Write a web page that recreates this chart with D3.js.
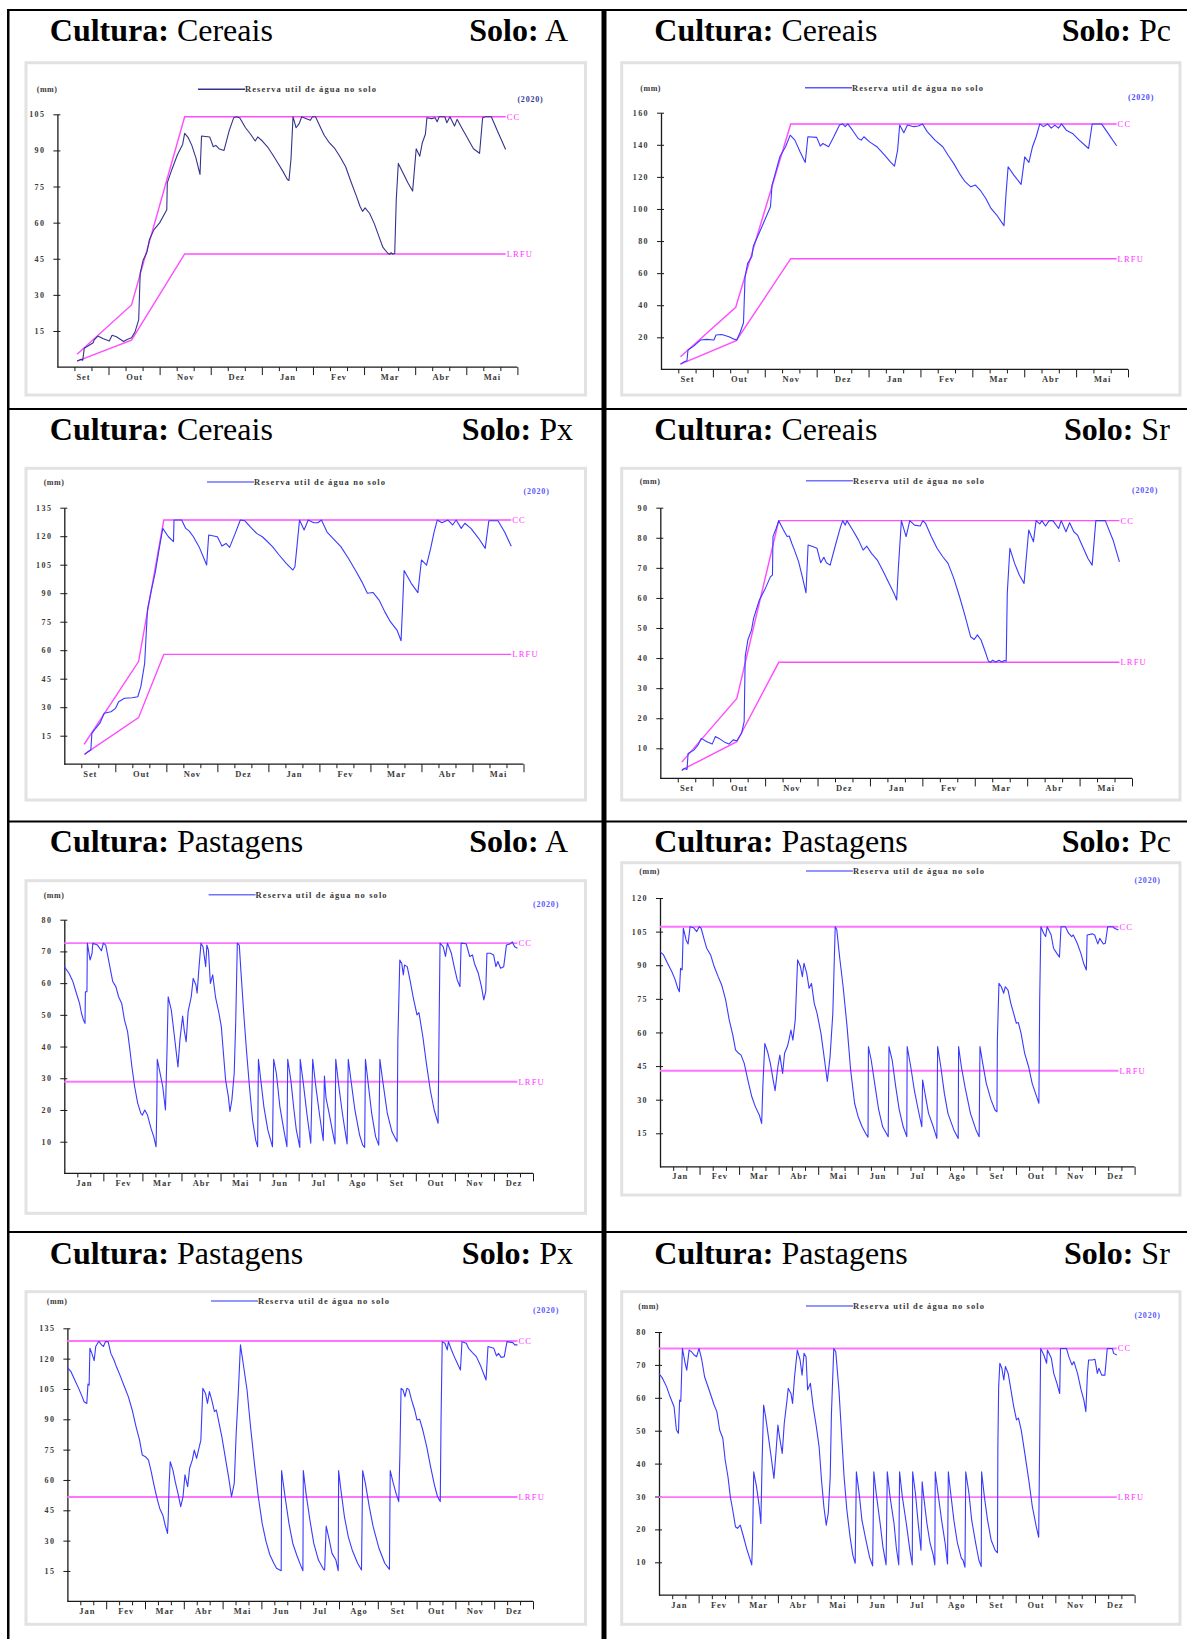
<!DOCTYPE html>
<html><head><meta charset="utf-8">
<script src="https://cdn.jsdelivr.net/npm/d3@7"></script>
<style>
  body { margin: 0; background: #fff; }
  svg { display: block; }
</style></head>
<body>
<svg id="chart" width="1187" height="1639"></svg>
<script>
// ---- Month labels ----
const cerealMonths  = ['Set','Out','Nov','Dez','Jan','Fev','Mar','Abr','Mai'];
const pastureMonths = ['Jan','Fev','Mar','Abr','Mai','Jun','Jul','Ago','Set','Out','Nov','Dez'];

// ---- Y tick labels (mm) ----
const ticksCerealA    = [15,30,45,60,75,90,105];
const ticksCerealPc   = [20,40,60,80,100,120,140,160];
const ticksCerealPx   = [15,30,45,60,75,90,105,120,135];
const ticksCerealSr   = [10,20,30,40,50,60,70,80,90];
const ticksPastureA   = [10,20,30,40,50,60,70,80];
const ticksPasturePc  = [15,30,45,60,75,90,105,120];
const ticksPasturePx  = [15,30,45,60,75,90,105,120,135];
const ticksPastureSr  = [10,20,30,40,50,60,70,80];

// ---- Capacidade de campo (CC) and LRFU, [month position, mm] ----
const ccCerealA   = [[0.385,5.3],[1.45,25.8],[2.49,104],[8.77,104]];
const lrfuCerealA = [[0.385,2.5],[1.45,11.2],[2.49,47],[8.77,47]];
const ccCerealPc   = [[0.375,7.9],[1.44,38.7],[2.5,153],[8.78,153]];
const lrfuCerealPc = [[0.375,3.3],[1.45,17.9],[2.5,69],[8.78,69]];
const ccCerealPx   = [[0.39,10.5],[1.455,54],[1.95,128.5],[8.76,128.5]];
const lrfuCerealPx = [[0.39,5.2],[1.455,24.5],[1.95,57.8],[8.76,57.8]];
const ccCerealSr   = [[0.41,5.4],[1.46,26.6],[2.26,85.7],[8.76,85.7]];
const lrfuCerealSr = [[0.41,2.8],[1.46,12.2],[2.26,38.6],[8.76,38.6]];
const ccPastureA   = [[0,72.6],[11.6,72.6]];
const lrfuPastureA = [[0,28.9],[11.6,28.9]];
const ccPasturePc   = [[0,107.2],[11.59,107.2]];
const lrfuPasturePc = [[0,42.9],[11.59,42.9]];
const ccPasturePx   = [[0,128.7],[11.6,128.7]];
const lrfuPasturePx = [[0,51.6],[11.6,51.6]];
const ccPastureSr   = [[0,75],[11.55,75]];
const lrfuPastureSr = [[0,29.8],[11.55,29.8]];

// ---- Reserva útil de água no solo, [month position, mm] ----
const cerealA = [[0.385,2.5],[0.455,3.2],[0.497,2.9],[0.525,7.8],[0.63,9.2],[0.70,10.1],[0.72,11.3],[0.79,12.9],[0.89,11.9],[1.015,10.8],[1.07,13.2],[1.155,12.6],[1.295,10.6],[1.365,11.5],[1.45,12.2],[1.52,14.7],[1.59,19.6],[1.62,39],[1.68,44.6],[1.75,47.6],[1.80,52.9],[1.89,57.1],[2.0,59.9],[2.10,63.8],[2.14,65.4],[2.15,76.5],[2.24,82.1],[2.35,88.3],[2.45,92.5],[2.49,97.1],[2.56,95.3],[2.63,92.1],[2.71,86.9],[2.79,80],[2.82,96],[2.98,95.6],[3.05,91.5],[3.10,92.1],[3.16,90.7],[3.26,90],[3.36,98.1],[3.45,103.6],[3.50,104],[3.57,103.5],[3.68,99.4],[3.78,96.7],[3.87,93.9],[3.92,95.6],[4.01,93.9],[4.11,91.5],[4.21,88.3],[4.31,84.9],[4.41,81.4],[4.50,77.9],[4.53,77.5],[4.57,86.3],[4.61,104],[4.67,99.4],[4.73,101.1],[4.78,104],[4.87,103.2],[4.95,102.5],[4.99,104],[5.05,104],[5.15,99.4],[5.22,96.3],[5.32,93.2],[5.43,90.7],[5.53,87.4],[5.64,83.2],[5.74,77.2],[5.85,71],[5.92,66.8],[5.97,64.7],[6.02,66.1],[6.11,63.8],[6.20,59.6],[6.29,54.3],[6.37,49.7],[6.46,47.4],[6.50,46.8],[6.53,47.5],[6.56,46.9],[6.60,47.3],[6.63,69.6],[6.67,84.6],[6.76,80.7],[6.86,76.5],[6.95,73.1],[7.02,90.7],[7.09,87.6],[7.14,93.2],[7.20,96.7],[7.23,103.6],[7.32,103.2],[7.39,103.6],[7.43,101.9],[7.47,104],[7.58,104],[7.62,101.5],[7.68,104],[7.77,100.1],[7.82,102.9],[7.91,99.4],[8.02,95.3],[8.14,90.7],[8.26,88.8],[8.32,103.6],[8.37,104],[8.49,104],[8.61,98.1],[8.77,90.4]];

const cerealPc = [[0.375,3.3],[0.45,4.8],[0.50,5.4],[0.52,12.1],[0.63,14.5],[0.69,16.2],[0.76,18.3],[0.88,18.7],[1.02,18.3],[1.06,21.4],[1.17,21.8],[1.31,20.4],[1.42,18.7],[1.46,18.3],[1.53,23.5],[1.59,29.1],[1.62,57.8],[1.67,66.1],[1.75,70.2],[1.78,76.9],[1.89,84.8],[2.0,93.1],[2.11,101.4],[2.14,114.9],[2.22,124.2],[2.29,132.5],[2.40,138.8],[2.49,146],[2.58,142.9],[2.68,135.6],[2.78,129],[2.83,145],[3.0,144.6],[3.07,139.2],[3.12,140.8],[3.23,138.8],[3.33,145],[3.44,152.3],[3.50,153],[3.55,151.3],[3.60,153],[3.69,149.1],[3.80,143.9],[3.86,142.9],[3.91,145],[4.02,141.8],[4.16,138.8],[4.31,133.6],[4.42,129.4],[4.50,126.7],[4.56,136.7],[4.60,152.3],[4.68,147.5],[4.75,152.3],[4.87,151.3],[4.96,151.7],[5.04,153],[5.13,148.2],[5.28,142.9],[5.43,138.8],[5.53,133.6],[5.64,128.4],[5.75,122.2],[5.86,117],[5.97,113.8],[6.06,114.9],[6.15,111.8],[6.26,106.5],[6.36,100.3],[6.47,96.2],[6.58,91],[6.61,89.5],[6.65,109.7],[6.69,126.3],[6.80,121.1],[6.94,115.3],[7.01,132.5],[7.09,129],[7.16,138.8],[7.23,145],[7.30,153],[7.37,151.3],[7.45,153],[7.52,150.4],[7.59,152.3],[7.66,150.4],[7.72,153],[7.81,149.1],[7.93,147.1],[8.06,142.9],[8.24,137.7],[8.31,153],[8.49,153],[8.64,146],[8.78,139.4]];

const cerealPx = [[0.405,5.2],[0.465,6.6],[0.52,7.5],[0.54,16.2],[0.615,18.9],[0.705,21.9],[0.78,26.8],[0.915,27.6],[1.005,29.4],[1.065,32.9],[1.18,34.7],[1.33,35],[1.44,35.5],[1.50,40.8],[1.575,53.1],[1.63,81.2],[1.70,90.8],[1.78,100.5],[1.85,111.9],[1.93,124.1],[2.04,119.7],[2.14,117.1],[2.15,128.5],[2.30,128.5],[2.38,124.1],[2.45,122.7],[2.53,119.7],[2.64,114.5],[2.75,107.5],[2.79,104.8],[2.83,120.6],[3.0,119.7],[3.09,114.8],[3.17,116.2],[3.24,114.1],[3.35,121.5],[3.45,128.5],[3.54,128.1],[3.65,124.8],[3.77,121.5],[3.88,119.7],[3.95,118],[4.08,114.5],[4.21,110.1],[4.35,105.7],[4.48,102.2],[4.52,103.9],[4.55,111.9],[4.61,128.5],[4.70,123.3],[4.78,128.5],[4.89,127.1],[4.97,127.1],[5.04,128.5],[5.15,122.2],[5.27,118.7],[5.42,114.5],[5.57,108.3],[5.72,101.4],[5.83,96.1],[5.94,90],[6.05,90.4],[6.17,86.4],[6.28,80.3],[6.39,75],[6.52,70.6],[6.60,65],[6.63,82.9],[6.66,101.9],[6.80,95.2],[6.93,90.3],[7.0,107.5],[7.10,104.8],[7.18,113.6],[7.25,122.4],[7.31,128.5],[7.40,127.1],[7.52,128.5],[7.61,125.9],[7.68,128.5],[7.78,124.1],[7.85,126.8],[7.97,124.1],[8.12,118.9],[8.25,113.6],[8.32,128.1],[8.50,128.1],[8.63,122.2],[8.76,114.7]];

const cerealSr = [[0.41,2.6],[0.46,3.3],[0.51,3.0],[0.53,8.3],[0.64,9.4],[0.72,11.1],[0.78,13.3],[0.89,12.2],[0.99,11.4],[1.05,13.9],[1.12,13.3],[1.24,11.9],[1.31,11.4],[1.39,12.8],[1.46,12.5],[1.55,15],[1.60,18.9],[1.62,40.5],[1.67,46],[1.74,49.3],[1.78,53.2],[1.89,59.3],[1.99,62.6],[2.10,67],[2.14,67.6],[2.15,80.4],[2.21,83.1],[2.26,85.7],[2.35,82.6],[2.42,80.4],[2.46,80.6],[2.51,78.1],[2.56,75.9],[2.64,72],[2.71,67],[2.78,61.7],[2.82,77.6],[2.92,77],[2.99,76.5],[3.06,71.7],[3.12,73.5],[3.17,71.7],[3.24,70.9],[3.35,78.1],[3.44,83.7],[3.48,85.7],[3.53,84.2],[3.56,85.7],[3.67,82.6],[3.78,79.3],[3.87,75.9],[3.94,77.2],[4.03,74.8],[4.14,72.6],[4.24,69.3],[4.35,65.4],[4.46,61.5],[4.51,59.3],[4.54,69.3],[4.60,85.7],[4.69,80.4],[4.76,85.7],[4.85,84.2],[4.96,83.9],[5.01,85.7],[5.06,84.8],[5.17,80.4],[5.28,76.5],[5.39,73.7],[5.49,71.5],[5.60,66.5],[5.71,60.4],[5.82,53.7],[5.92,47.1],[5.99,46.2],[6.05,47.7],[6.12,46],[6.21,41.6],[6.26,39],[6.30,38.6],[6.34,39.3],[6.40,38.7],[6.46,39.3],[6.52,38.7],[6.56,39.2],[6.60,39],[6.62,61.5],[6.67,76.5],[6.76,71.5],[6.85,67.6],[6.94,64.8],[7.03,82.6],[7.12,78.7],[7.17,85.7],[7.24,84.6],[7.28,85.7],[7.35,83.9],[7.42,85.7],[7.49,85.7],[7.60,83.1],[7.65,85.7],[7.74,82],[7.81,85],[7.89,82],[7.96,80.9],[8.06,77],[8.16,73.1],[8.24,70.9],[8.31,85.7],[8.49,85.7],[8.64,79.2],[8.76,72]];

const pastureA = [[0,65.2],[0.12,63.1],[0.22,60.5],[0.31,56.8],[0.39,53.6],[0.44,50.5],[0.49,48.4],[0.53,47.3],[0.54,57.3],[0.58,57.3],[0.59,72.6],[0.66,67.3],[0.71,69.4],[0.73,72.6],[0.85,72],[0.95,70.2],[1.0,72.6],[1.06,72],[1.15,66.2],[1.24,60.5],[1.32,58.9],[1.39,55.7],[1.47,53.6],[1.54,48.4],[1.62,44.7],[1.68,38.9],[1.73,33.7],[1.80,27.4],[1.88,22.1],[1.96,18.9],[2.0,18.4],[2.06,20],[2.13,18.4],[2.22,14.2],[2.29,11.6],[2.35,8.4],[2.37,22.1],[2.38,36],[2.47,30.5],[2.52,27.4],[2.59,20],[2.63,38.9],[2.66,55.7],[2.74,51.5],[2.81,44.2],[2.91,33.6],[2.96,42.1],[3.03,49.6],[3.07,45.2],[3.12,41.5],[3.17,51],[3.25,55.7],[3.30,61.5],[3.37,59.4],[3.40,56.8],[3.45,65.2],[3.50,72.6],[3.55,71.5],[3.62,65.2],[3.65,72],[3.69,70.4],[3.74,59.9],[3.80,62.6],[3.87,55.7],[3.96,50.5],[4.02,46.3],[4.06,40],[4.13,29.4],[4.20,24.2],[4.24,19.5],[4.29,23.1],[4.35,31.6],[4.39,48.4],[4.43,72.6],[4.48,72],[4.52,64.1],[4.60,49.4],[4.67,37.9],[4.74,27.4],[4.82,16.8],[4.90,10.5],[4.95,8.4],[4.97,36],[5.02,30.5],[5.11,21],[5.21,13.7],[5.33,8.4],[5.36,36],[5.43,31.5],[5.52,21],[5.62,13.7],[5.70,8.4],[5.72,36],[5.80,29.4],[5.88,20],[5.94,13.7],[6.03,8.2],[6.04,36],[6.12,28.4],[6.21,18.9],[6.31,9.5],[6.36,36],[6.43,28.4],[6.53,18.9],[6.63,10.3],[6.66,30.7],[6.70,23.8],[6.78,18.9],[6.86,13.7],[6.93,9.3],[6.95,36],[7.02,28.4],[7.12,18.9],[7.24,9.3],[7.27,36],[7.35,28.4],[7.44,20],[7.56,12.1],[7.64,8.9],[7.69,8.2],[7.71,36],[7.78,28.4],[7.87,18.9],[7.97,11.6],[8.05,8.9],[8.08,36],[8.15,29.4],[8.27,18.9],[8.39,13.1],[8.52,10],[8.54,42.1],[8.59,67.3],[8.64,66.2],[8.68,62.6],[8.71,65.7],[8.78,65.2],[8.85,61],[8.93,55.7],[9.03,50],[9.08,50.7],[9.18,43.1],[9.27,34.7],[9.37,26.3],[9.47,20],[9.57,15.8],[9.60,51],[9.62,72.6],[9.70,71.5],[9.76,68.4],[9.81,72.6],[9.91,69.4],[9.99,64.7],[10.06,61],[10.13,58.9],[10.16,72.6],[10.29,72.4],[10.38,68.4],[10.45,68.9],[10.50,66.2],[10.60,63.1],[10.68,58.9],[10.74,54.7],[10.79,57.3],[10.82,69.4],[10.91,69.4],[10.99,68.9],[11.05,65.2],[11.10,66.8],[11.17,64.7],[11.25,65.2],[11.32,72],[11.42,72.4],[11.47,73],[11.53,71.5],[11.60,71]];

const pasturePc = [[0,96.1],[0.09,94.6],[0.19,90.9],[0.30,87.1],[0.38,83.7],[0.45,79.7],[0.49,78.2],[0.52,88.6],[0.56,87.9],[0.59,106.5],[0.66,101.3],[0.71,99.5],[0.76,107.2],[0.85,106.7],[0.93,105],[0.99,107.2],[1.04,106.5],[1.12,101.3],[1.18,97.6],[1.28,94.6],[1.37,89.4],[1.47,84.9],[1.56,81.2],[1.66,74.5],[1.75,65.6],[1.84,58.9],[1.91,52.2],[1.99,50.7],[2.05,49.9],[2.13,46.2],[2.22,38.8],[2.32,31.4],[2.41,26.9],[2.51,23.2],[2.57,19.4],[2.60,35.8],[2.65,55.1],[2.72,51.4],[2.79,46.2],[2.86,38.8],[2.91,34],[2.98,44.7],[3.03,49.9],[3.10,41.7],[3.15,50.7],[3.22,53.7],[3.26,56.6],[3.31,61.1],[3.36,56.6],[3.42,65.6],[3.48,92.4],[3.55,89.4],[3.60,84.9],[3.64,90.9],[3.71,86.4],[3.77,79.7],[3.83,81.9],[3.90,73],[3.97,68.6],[4.07,59.6],[4.16,47.7],[4.23,38.1],[4.30,49.2],[4.37,68.6],[4.43,107.2],[4.47,105.8],[4.54,93.9],[4.63,80.4],[4.73,62.6],[4.82,43.3],[4.92,28.4],[5.01,22.4],[5.11,17.9],[5.20,14.9],[5.26,13.2],[5.27,53.7],[5.34,47.7],[5.44,35.8],[5.53,25.4],[5.63,17.9],[5.77,13.5],[5.79,53.7],[5.87,47.7],[5.96,35.8],[6.05,25.4],[6.15,17.9],[6.24,13.5],[6.25,53.7],[6.34,44.7],[6.43,34.3],[6.53,25.4],[6.62,17.9],[6.64,38.8],[6.70,32.8],[6.79,23.9],[6.91,17.9],[7.0,12.7],[7.02,53.7],[7.10,44.7],[7.19,32.8],[7.28,23.9],[7.43,16.5],[7.54,12.7],[7.55,53.7],[7.62,44.7],[7.71,35.8],[7.85,23.9],[7.99,16.5],[8.07,13.5],[8.09,53.7],[8.16,46.2],[8.25,37.3],[8.37,29.9],[8.47,25.4],[8.52,24.6],[8.53,56.6],[8.57,81.9],[8.63,80.4],[8.69,77.5],[8.73,80.4],[8.80,78.9],[8.87,73],[8.94,68.6],[9.01,64.1],[9.06,64.4],[9.13,59.6],[9.22,50.7],[9.32,44.7],[9.41,37.3],[9.51,32],[9.58,28.4],[9.60,74.5],[9.63,107.2],[9.70,104.3],[9.75,102.8],[9.79,107.2],[9.89,103.5],[9.95,97.6],[10.03,95.4],[10.10,93.6],[10.14,107.2],[10.25,107.2],[10.33,104.3],[10.41,102.8],[10.45,103.5],[10.55,99.8],[10.64,95.4],[10.71,90.9],[10.78,87.9],[10.80,103.5],[10.93,104],[10.99,103.5],[11.07,99.5],[11.12,102],[11.21,99.5],[11.26,99.8],[11.32,107.2],[11.45,107.2],[11.49,106.5],[11.59,105.7]];

const pasturePx = [[0,115.7],[0.09,113.6],[0.19,109.4],[0.29,105.3],[0.38,101.2],[0.43,98.7],[0.50,97.8],[0.53,107.4],[0.56,106.9],[0.58,125.1],[0.63,122.6],[0.69,119],[0.73,126],[0.81,128.6],[0.88,126.8],[0.93,126],[0.98,128.4],[1.05,128.4],[1.12,122.6],[1.20,119.3],[1.27,115.7],[1.37,111.1],[1.47,106.1],[1.57,101.2],[1.67,94.6],[1.77,86.3],[1.86,79.7],[1.93,72.3],[2.01,71.5],[2.09,69.8],[2.16,64.1],[2.24,56.7],[2.31,50.9],[2.38,45.9],[2.46,42.6],[2.52,37.7],[2.58,33.6],[2.60,41.8],[2.62,56.7],[2.65,69],[2.72,64.9],[2.78,59.1],[2.85,53.4],[2.92,46.8],[2.98,51.7],[3.03,62.5],[3.10,56.7],[3.15,65.8],[3.22,69.9],[3.27,74.8],[3.33,70.7],[3.37,74],[3.44,79.7],[3.49,105.3],[3.56,102.8],[3.61,97.9],[3.66,103.7],[3.72,99.6],[3.79,93.8],[3.84,94.6],[3.91,88],[3.98,81.4],[4.08,69.9],[4.16,60.8],[4.23,51.7],[4.30,58.3],[4.35,83],[4.40,101.2],[4.46,126.8],[4.53,117.7],[4.63,104.5],[4.72,86.3],[4.82,68.2],[4.92,51.7],[5.02,38.5],[5.12,29.5],[5.22,22.9],[5.32,18.8],[5.39,16.3],[5.51,15.1],[5.52,64.6],[5.61,51.7],[5.71,38.5],[5.81,28.6],[5.91,22.9],[6.01,17.9],[6.07,15.1],[6.08,64.6],[6.15,53.4],[6.25,40.2],[6.35,28.6],[6.47,20.4],[6.60,15.8],[6.63,15.5],[6.67,37.2],[6.75,30.3],[6.82,23.7],[6.92,20.4],[6.98,15.1],[6.99,64.6],[7.06,53.4],[7.14,41.8],[7.24,31.9],[7.34,25.4],[7.48,18.8],[7.58,15.5],[7.61,64.6],[7.68,58.3],[7.78,46.8],[7.88,36.9],[8.03,26.2],[8.18,18.8],[8.30,15.8],[8.32,64.6],[8.40,58.3],[8.47,53.4],[8.54,49.3],[8.57,73.1],[8.60,105.3],[8.65,104.5],[8.70,101.2],[8.75,105.3],[8.80,104.8],[8.87,99.6],[8.95,94.6],[9.01,89.7],[9.08,90],[9.16,84.7],[9.26,76.5],[9.36,66.6],[9.46,57.5],[9.54,51.7],[9.61,49.3],[9.63,89.7],[9.66,128.4],[9.73,127.6],[9.79,124.3],[9.82,128.4],[9.90,124.3],[9.97,121],[10.05,117.7],[10.13,114.4],[10.17,128.4],[10.28,127.6],[10.34,125.1],[10.44,123],[10.54,121],[10.64,116.9],[10.74,111.9],[10.79,109.4],[10.84,126],[10.99,125.1],[11.06,121.3],[11.11,122.6],[11.18,120.6],[11.26,121],[11.33,128.4],[11.48,127.9],[11.53,126.8],[11.60,126.8]];

const pastureSr = [[0,67.4],[0.09,65.9],[0.19,63.4],[0.28,60.3],[0.38,57.3],[0.44,50.2],[0.49,49.2],[0.52,59.3],[0.55,58.9],[0.57,66.9],[0.59,75],[0.66,70.5],[0.70,68.4],[0.76,74.5],[0.82,74],[0.89,73],[0.95,72.5],[1.01,75],[1.08,71.5],[1.15,66.4],[1.25,62.9],[1.32,60.4],[1.39,57.8],[1.46,55.8],[1.53,50.2],[1.61,47.7],[1.67,41.1],[1.74,36],[1.80,29.9],[1.86,25.9],[1.93,20.8],[1.98,20.3],[2.05,21.3],[2.12,18.3],[2.21,14.2],[2.29,11.2],[2.34,9.2],[2.36,16.8],[2.39,37.5],[2.46,33],[2.53,26.9],[2.57,21.8],[2.60,40.1],[2.64,57.8],[2.69,54.3],[2.76,48.2],[2.84,41.1],[2.90,35.5],[2.95,43.1],[3.0,51.7],[3.04,48.2],[3.11,43.1],[3.16,52.2],[3.23,59.3],[3.26,62.9],[3.33,61.3],[3.37,58.3],[3.42,66.4],[3.49,74.5],[3.56,71.5],[3.61,66.9],[3.66,73.5],[3.71,72.5],[3.75,62.4],[3.82,64.4],[3.89,57.3],[3.97,51.2],[4.04,45.1],[4.10,35],[4.16,26.9],[4.22,21.3],[4.27,24.9],[4.32,36],[4.35,54.8],[4.39,68.4],[4.41,75],[4.46,74],[4.54,62.4],[4.60,50.2],[4.67,36],[4.74,25.9],[4.82,17.8],[4.89,12.2],[4.95,9.7],[4.98,37.5],[5.06,29.9],[5.12,22.8],[5.22,16.8],[5.31,11.7],[5.39,8.9],[5.42,37.5],[5.48,31],[5.58,21.8],[5.65,14.7],[5.73,9.2],[5.76,37.5],[5.83,29.9],[5.93,21.8],[5.99,14.2],[6.05,9.2],[6.07,37.5],[6.14,29.9],[6.24,21.8],[6.33,13.7],[6.39,9.2],[6.40,37.5],[6.47,31],[6.54,21.8],[6.61,13.7],[6.64,34.5],[6.68,29.9],[6.76,21.8],[6.84,15.8],[6.92,12.2],[6.96,9.2],[6.97,37.5],[7.04,31],[7.13,22.8],[7.22,15.8],[7.28,9.5],[7.30,37.5],[7.36,31],[7.44,22.8],[7.53,15.8],[7.63,11.2],[7.67,10.7],[7.72,8.5],[7.74,37.5],[7.82,31],[7.89,22.8],[7.99,15.8],[8.07,10.7],[8.13,8.7],[8.14,37.5],[8.21,29.9],[8.29,22.8],[8.38,16.8],[8.48,13.7],[8.54,12.9],[8.55,45.1],[8.57,63.4],[8.60,70.5],[8.65,69],[8.70,65.4],[8.74,69.5],[8.81,67.4],[8.88,62.4],[8.95,57.3],[9.02,53.3],[9.07,53.8],[9.14,50.2],[9.23,43.1],[9.33,35],[9.42,26.9],[9.52,20.8],[9.58,17.6],[9.61,52.2],[9.63,75],[9.71,73],[9.78,70.5],[9.80,74.5],[9.90,72],[9.96,67.4],[10.04,64.4],[10.11,61.3],[10.13,75],[10.28,75],[10.34,72.5],[10.42,70],[10.47,71],[10.56,67.4],[10.65,62.4],[10.72,59.3],[10.77,55.8],[10.81,67.4],[10.84,71.5],[10.93,71.5],[11.0,71.7],[11.06,67.4],[11.10,69],[11.17,66.9],[11.25,66.9],[11.31,75],[11.44,75],[11.47,73.5],[11.55,73]];

// ---- Panel contents ----
const panels = [
  {crop:'Cereais',   soil:'A',  months:cerealMonths,  yTicks:ticksCerealA,   series:cerealA,   cc:ccCerealA,   lrfu:lrfuCerealA},
  {crop:'Cereais',   soil:'Pc', months:cerealMonths,  yTicks:ticksCerealPc,  series:cerealPc,  cc:ccCerealPc,  lrfu:lrfuCerealPc},
  {crop:'Cereais',   soil:'Px', months:cerealMonths,  yTicks:ticksCerealPx,  series:cerealPx,  cc:ccCerealPx,  lrfu:lrfuCerealPx},
  {crop:'Cereais',   soil:'Sr', months:cerealMonths,  yTicks:ticksCerealSr,  series:cerealSr,  cc:ccCerealSr,  lrfu:lrfuCerealSr},
  {crop:'Pastagens', soil:'A',  months:pastureMonths, yTicks:ticksPastureA,  series:pastureA,  cc:ccPastureA,  lrfu:lrfuPastureA},
  {crop:'Pastagens', soil:'Pc', months:pastureMonths, yTicks:ticksPasturePc, series:pasturePc, cc:ccPasturePc, lrfu:lrfuPasturePc},
  {crop:'Pastagens', soil:'Px', months:pastureMonths, yTicks:ticksPasturePx, series:pasturePx, cc:ccPasturePx, lrfu:lrfuPasturePx},
  {crop:'Pastagens', soil:'Sr', months:pastureMonths, yTicks:ticksPastureSr, series:pastureSr, cc:ccPastureSr, lrfu:lrfuPastureSr}
];

// ---- Page geometry for each cell ----
const layout = [
  {box:[26,62.7,585.5,395],      x0:57.4,  x1:517.4,  yTop:114.3,  yZero:367.1,  titleY:40.5,  titleX:49.8,  titleR:568,    legY:89.3,  legX:198},
  {box:[621.7,62.7,1180,395],    x0:661,   x1:1128,   yTop:112.7,  yZero:369.4,  titleY:40.5,  titleX:654.3, titleR:1171,   legY:87.7,  legX:805},
  {box:[26,468.3,585.5,800],     x0:64.3,  x1:523.5,  yTop:507.7,  yZero:764.2,  titleY:440,   titleX:49.8,  titleR:573,    legY:482,   legX:207},
  {box:[621.7,468.3,1180,800],   x0:660.3, x1:1132,   yTop:507.7,  yZero:778.4,  titleY:440,   titleX:654.3, titleR:1169.8, legY:480.7, legX:806},
  {box:[26,880.7,585.5,1213.3],  x0:64.3,  x1:533,    yTop:919.7,  yZero:1173.4, titleY:851.7, titleX:49.8,  titleR:568,    legY:894.7, legX:208.6},
  {box:[621.7,862.7,1180,1195],  x0:660,   x1:1134.6, yTop:898,    yZero:1166.9, titleY:851.7, titleX:654.3, titleR:1171,   legY:871,   legX:806},
  {box:[26,1291.7,585.5,1624.3], x0:67.4,  x1:533,    yTop:1328.3, yZero:1601.3, titleY:1264,  titleX:49.8,  titleR:573,    legY:1301,  legX:211},
  {box:[621.7,1291.7,1180,1624.3],x0:659,  x1:1134.6, yTop:1332,   yZero:1595.2, titleY:1264,  titleX:654.3, titleR:1169.8, legY:1306,  legX:806}
];

const seriesColor = ['#34348c','#3a3aff','#3a3aff','#3a3aff','#3a3aff','#3a3aff','#3a3aff','#3a3aff'];
const legendColor = ['#34348c','#5a5aff','#7272ff','#7272ff','#7272ff','#7272ff','#7272ff','#7272ff'];
const yearColor   = ['#3a3a96','#4d4dff','#5a5aff','#5a5aff','#5a5aff','#5a5aff','#5a5aff','#5a5aff'];
const refStyle = {
  Cereais:   {color:'#ff4cff', width:1.4},
  Pastagens: {color:'#ff74ff', width:1.9}
};
const serif = '"Liberation Serif", "Times New Roman", serif';
const axisColor = '#1a1a1a';
const labelColor = '#3a3a3a';

const svg = d3.select('#chart');
svg.append('rect').attr('width',1187).attr('height',1639).attr('fill','#fff');

// ---- Table rules ----
const rules = svg.append('g').attr('fill','#000');
rules.append('rect').attr('x',7).attr('y',9).attr('width',1180).attr('height',2);
rules.append('rect').attr('x',7).attr('y',9).attr('width',2.5).attr('height',1630);
rules.append('rect').attr('x',601.5).attr('y',9).attr('width',5).attr('height',1630);
[408, 820.5, 1231].forEach(yy => rules.append('rect').attr('x',7).attr('y',yy).attr('width',1180).attr('height',2));

panels.forEach((p, i) => {
  const L = layout[i];
  const g = svg.append('g');
  const ref = refStyle[p.crop];

  // chart frame
  g.append('rect')
    .attr('x', L.box[0]).attr('y', L.box[1])
    .attr('width', L.box[2] - L.box[0]).attr('height', L.box[3] - L.box[1])
    .attr('fill', '#fff').attr('stroke', '#e2e2e2').attr('stroke-width', 3);

  // heading
  const t = g.append('text').attr('x', L.titleX).attr('y', L.titleY)
    .attr('font-family', serif).attr('font-size', 32).attr('fill', '#000').style('white-space', 'pre');
  t.append('tspan').attr('font-weight', 'bold').text('Cultura:');
  t.append('tspan').text(' ' + p.crop);
  const s = g.append('text').attr('x', L.titleR).attr('y', L.titleY).attr('text-anchor', 'end')
    .attr('font-family', serif).attr('font-size', 32).attr('fill', '#000').style('white-space', 'pre');
  s.append('tspan').attr('font-weight', 'bold').text('Solo:');
  s.append('tspan').text(' ' + p.soil);

  const n = p.months.length;
  const x = d3.scaleLinear().domain([0, n]).range([L.x0, L.x1]);
  const y = d3.scaleLinear().domain([0, p.yTicks[p.yTicks.length - 1]]).range([L.yZero, L.yTop]);

  // y axis
  const ya = g.append('g').attr('transform', `translate(${L.x0},0)`)
    .call(d3.axisLeft(y).tickValues(p.yTicks).tickSize(4).tickSizeOuter(0).tickPadding(8));
  ya.select('.domain').attr('stroke', axisColor).attr('stroke-width', 1.3);
  ya.selectAll('.tick line').attr('x1', 3).attr('x2', -4).attr('stroke', axisColor);
  ya.selectAll('.tick text').attr('font-family', serif).attr('font-size', 8).attr('font-weight', 'bold')
    .attr('letter-spacing', 1.4).attr('fill', labelColor);

  // x axis: month boundaries, dekad ticks, month names
  const xa = g.append('g').attr('transform', `translate(0,${L.yZero})`);
  xa.append('g').call(d3.axisBottom(x).tickValues(d3.range(1, n + 1)).tickSize(8).tickSizeOuter(0).tickFormat(''))
    .call(a => { a.select('.domain').attr('stroke', axisColor).attr('stroke-width', 1.3)
      .attr('d', `M${L.x0},0H${L.x1}`); a.selectAll('.tick line').attr('stroke', axisColor); });
  xa.append('g').call(d3.axisBottom(x).tickValues(d3.range(n).flatMap(k => [k + 1/3, k + 2/3])).tickSize(4).tickFormat(''))
    .call(a => { a.select('.domain').remove(); a.selectAll('.tick line').attr('stroke', axisColor); });
  xa.append('g').call(d3.axisBottom(x).tickValues(d3.range(n).map(k => k + 0.5)).tickSize(0).tickPadding(6.5)
      .tickFormat(d => p.months[Math.floor(d)]))
    .call(a => { a.select('.domain').remove();
      a.selectAll('.tick text').attr('font-family', serif).attr('font-size', 8.5).attr('font-weight', 'bold')
        .attr('letter-spacing', 0.9).attr('fill', labelColor); });

  const line = d3.line().x(d => x(d[0])).y(d => y(d[1]));

  // CC and LRFU reference lines with end labels
  [[p.cc, 'CC'], [p.lrfu, 'LRFU']].forEach(([refLine, label]) => {
    g.append('path').datum(refLine).attr('d', line).attr('fill', 'none')
      .attr('stroke', ref.color).attr('stroke-width', ref.width);
    const last = refLine[refLine.length - 1];
    g.append('text').attr('x', x(last[0]) + 1).attr('y', y(last[1])).attr('dy', '0.35em')
      .attr('font-family', serif).attr('font-size', 8.5).attr('letter-spacing', 1.2)
      .attr('fill', '#ff33ff').text(label);
  });

  // soil water reserve
  g.append('path').datum(p.series).attr('d', line).attr('fill', 'none')
    .attr('stroke', seriesColor[i]).attr('stroke-width', 1.1).attr('stroke-linejoin', 'round');

  // unit, legend and year
  g.append('text').attr('x', L.x0).attr('y', L.legY).attr('dy', '0.35em').attr('text-anchor', 'end')
    .attr('font-family', serif).attr('font-size', 8).attr('font-weight', 'bold').attr('letter-spacing', 0.5)
    .attr('fill', labelColor).text('(mm)');
  g.append('line').attr('x1', L.legX).attr('x2', L.legX + 47).attr('y1', L.legY).attr('y2', L.legY)
    .attr('stroke', legendColor[i]).attr('stroke-width', 1.4);
  g.append('text').attr('x', L.legX + 47).attr('y', L.legY).attr('dy', '0.35em')
    .attr('font-family', serif).attr('font-size', 8.5).attr('font-weight', 'bold').attr('fill', labelColor)
    .attr('textLength', 131).attr('lengthAdjust', 'spacing').text('Reserva util de água no solo');
  g.append('text').attr('x', L.x1).attr('y', L.legY + 9.5).attr('dy', '0.35em')
    .attr('font-family', serif).attr('font-size', 8).attr('font-weight', 'bold').attr('letter-spacing', 0.8)
    .attr('fill', yearColor[i]).text('(2020)');
});
</script>
</body></html>
